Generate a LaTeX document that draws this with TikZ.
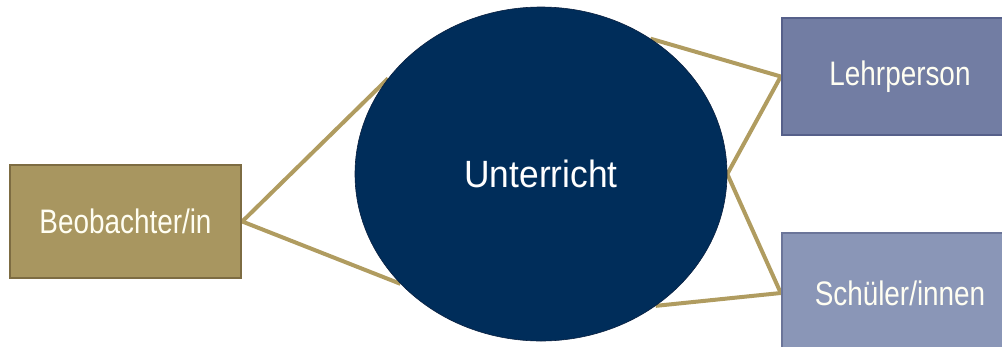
\documentclass[tikz,border=0pt]{standalone}
\usepackage{fontspec}
\usetikzlibrary{shapes.geometric,backgrounds}
\newfontfamily\boxfont{Liberation Sans}[FakeStretch=0.82]
\newfontfamily\ellfont{Liberation Sans}[FakeStretch=0.93]
\definecolor{gold}{RGB}{176,156,96}
\definecolor{beofill}{RGB}{168,150,96}
\definecolor{beodraw}{RGB}{125,108,66}
\definecolor{navy}{RGB}{0,45,90}
\definecolor{navydraw}{RGB}{10,32,64}
\definecolor{lehrfill}{RGB}{114,125,163}
\definecolor{lehrdraw}{RGB}{86,96,138}
\definecolor{schfill}{RGB}{138,150,183}
\definecolor{schdraw}{RGB}{107,117,153}
\tikzset{
  box/.style={rectangle, line width=2.5pt, text=white!95!yellow, inner sep=0pt,
    font=\boxfont\fontsize{34}{40}\selectfont},
  link/.style={draw=gold, line width=4pt},
}
\begin{document}
\begin{tikzpicture}[x=1pt,y=-1pt]
\useasboundingbox (0,0) rectangle (1002,346);
\clip (0,0) rectangle (1002,346);
\node[box, fill=beofill, draw=beodraw, minimum width=231pt, minimum height=113pt] (beo) at (125.5,221.5) {Beobachter/in};
\node[ellipse, fill=navy, draw=navydraw, line width=0.6pt, minimum width=372pt, minimum height=334pt, inner sep=0pt, text=white,
  font=\ellfont\fontsize{38}{44}\selectfont] (U) at (541,174) {Unterricht};
\node[box, fill=lehrfill, draw=lehrdraw, minimum width=236pt, minimum height=117pt] (lehr) at (900,76.5) {Lehrperson};
\node[box, fill=schfill, draw=schdraw, minimum width=236pt, minimum height=120pt] (sch) at (900,293) {Schüler/innen};
\begin{scope}[on background layer]
\draw[link] (beo.east) -- (U.148);
\draw[link] (beo.east) -- (U.218);
\draw[link] (U.51) -- (lehr.west);
\draw[link] (U.east) -- (lehr.west);
\draw[link] (U.east) -- (sch.west);
\draw[link] (U.311) -- (sch.west);
\end{scope}
\end{tikzpicture}
\end{document}
